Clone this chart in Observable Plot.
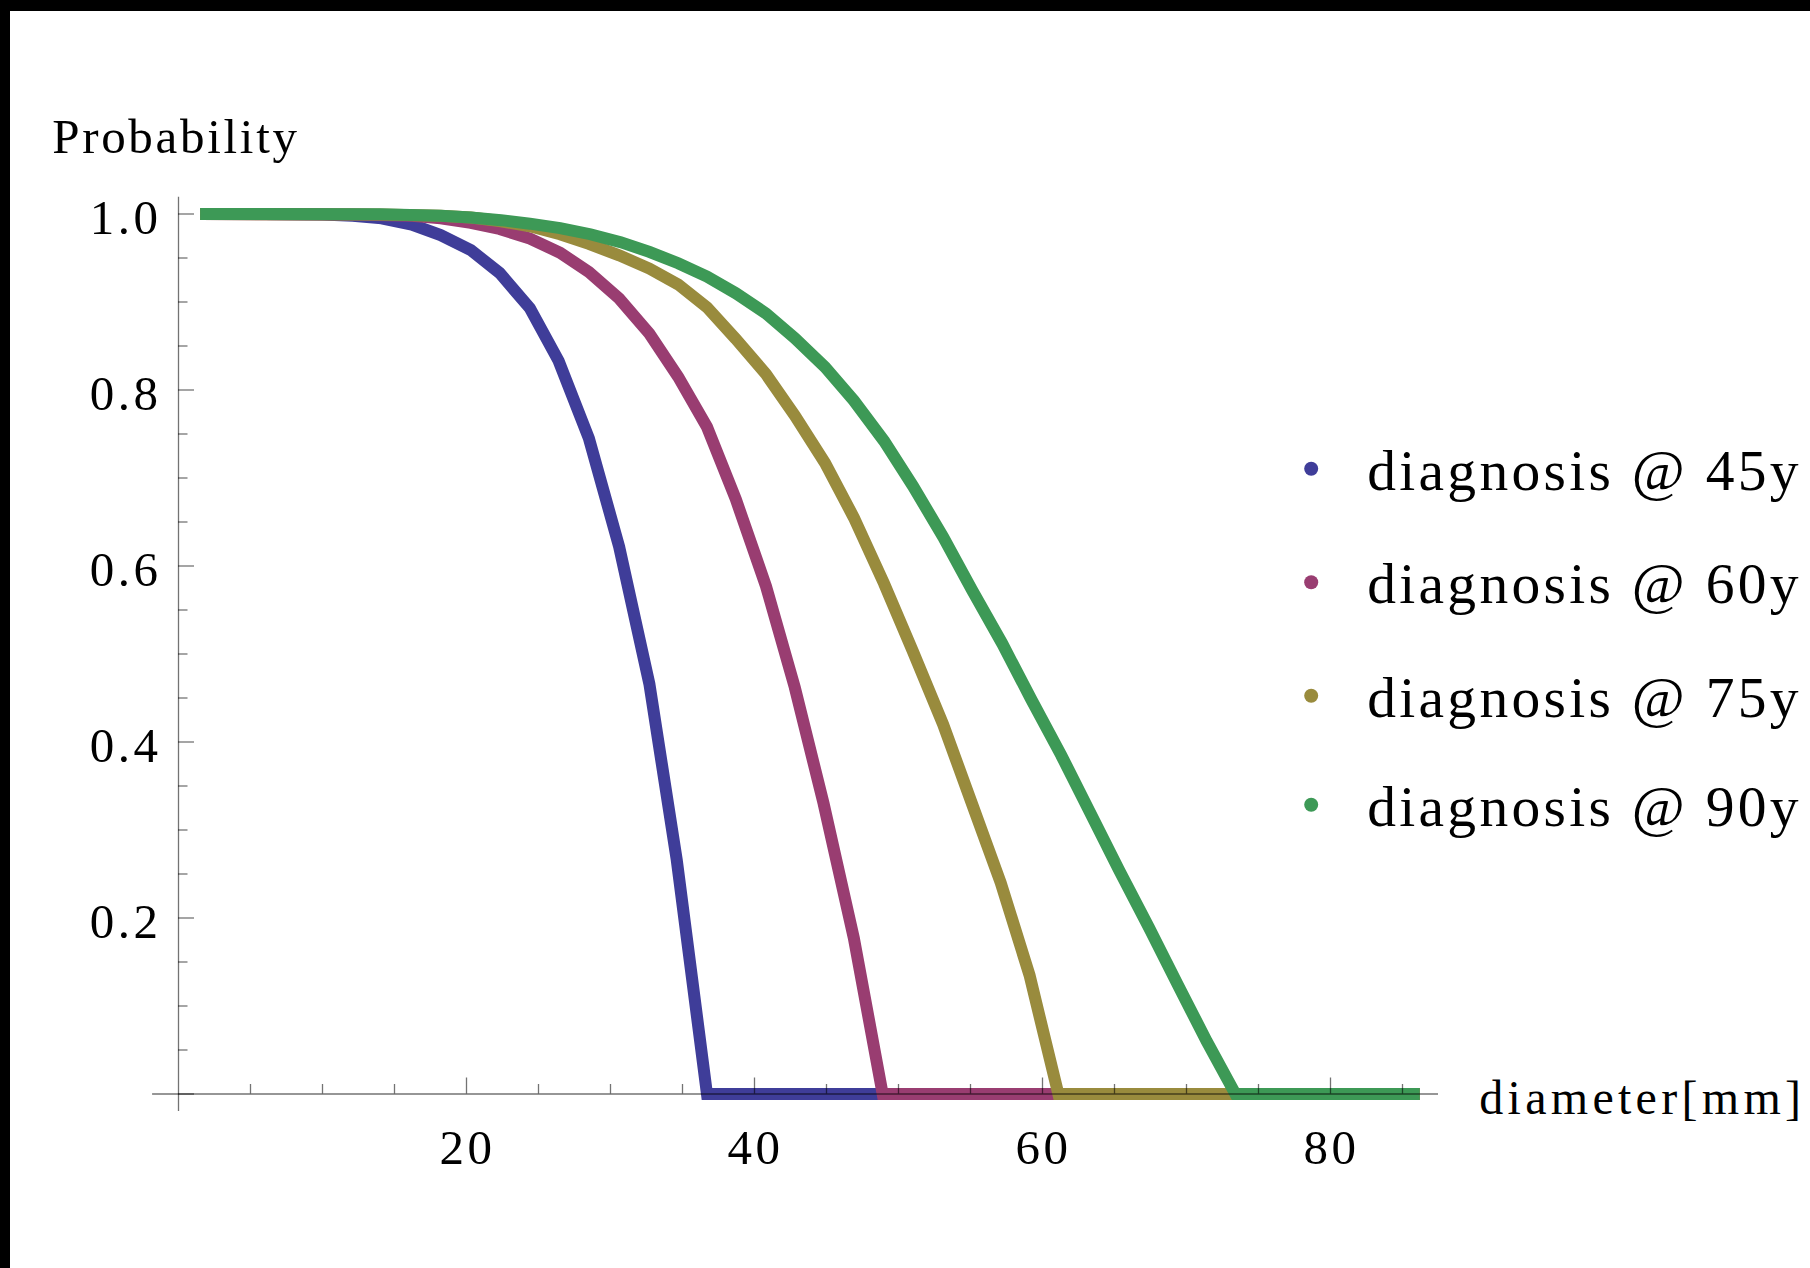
<!DOCTYPE html>
<html>
<head>
<meta charset="utf-8">
<script src="https://cdn.jsdelivr.net/npm/d3@7"></script>
<script src="https://cdn.jsdelivr.net/npm/@observablehq/plot@0.6"></script>
<style>
html, body { margin: 0; padding: 0; background: #000; width: 1810px; height: 1268px; overflow: hidden; }
#chart { position: absolute; left: 10px; top: 11px; width: 1800px; height: 1257px; background: #fff; }
#chart svg { display: block; }
</style>
</head>
<body>
<div id="chart"></div>
<script>
// ---- data ----
const seriesNames = ["diagnosis @ 45y", "diagnosis @ 60y", "diagnosis @ 75y", "diagnosis @ 90y"];
const seriesColors = ["#3f3d99", "#993d71", "#998b3d", "#3d9956"];

const d45 = [1.5, 6, 10, 12.1, 14.1, 16.2, 18.2, 20.3, 22.3, 24.4, 26.4, 28.5, 30.6, 32.7, 34.6, 36.7, 86.2];
const p45 = [1.000, 1.000, 0.9995, 0.998, 0.995, 0.988, 0.976, 0.959, 0.933, 0.893, 0.833, 0.745, 0.622, 0.466, 0.266, 0, 0];

const d60 = [1.5, 12, 16.2, 18.2, 20.3, 22.3, 24.4, 26.5, 28.5, 30.6, 32.7, 34.7, 36.7, 38.7, 40.8, 42.8, 44.8, 46.9, 48.9, 86.2];
const p60 = [1.000, 0.9995, 0.998, 0.995, 0.990, 0.983, 0.972, 0.956, 0.934, 0.904, 0.864, 0.815, 0.758, 0.676, 0.577, 0.462, 0.330, 0.177, 0, 0];

const d75 = [1.5, 14, 18.2, 20.3, 22.3, 24.4, 26.5, 28.5, 30.6, 32.7, 34.7, 36.7, 38.7, 40.8, 42.8, 44.9, 46.9, 49, 51, 53.1, 55.1, 57.1, 59.1, 61.1, 86.2];
const p75 = [1.000, 0.9995, 0.998, 0.996, 0.992, 0.986, 0.977, 0.966, 0.953, 0.938, 0.920, 0.894, 0.858, 0.818, 0.771, 0.717, 0.655, 0.580, 0.503, 0.420, 0.330, 0.240, 0.135, 0, 0];

const d90 = [1.5, 14, 18.2, 20.3, 22.4, 24.4, 26.5, 28.6, 30.7, 32.7, 34.7, 36.7, 38.7, 40.8, 42.8, 44.9, 46.9, 49, 51, 53.1, 55.1, 57.2, 59.2, 61.3, 63.3, 65.3, 67.4, 69.4, 71.4, 73.4, 86.2];
const p90 = [1.000, 0.9997, 0.998, 0.996, 0.993, 0.989, 0.984, 0.977, 0.968, 0.957, 0.944, 0.929, 0.910, 0.887, 0.859, 0.826, 0.788, 0.742, 0.691, 0.633, 0.573, 0.512, 0.449, 0.385, 0.320, 0.255, 0.189, 0.124, 0.060, 0, 0];

const xMajor = [20, 40, 60, 80];
const xMinor = [5, 10, 15, 25, 30, 35, 45, 50, 55, 65, 70, 75, 85];
const yMajor = [0.2, 0.4, 0.6, 0.8, 1.0];
const yMinor = [0.05, 0.1, 0.15, 0.25, 0.3, 0.35, 0.45, 0.5, 0.55, 0.65, 0.7, 0.75, 0.85, 0.9, 0.95];
const xLabel = "diameter[mm]";
const yLabel = "Probability";

// ---- table for the line mark ----
const seriesD = [d45, d60, d75, d90];
const seriesP = [p45, p60, p75, p90];
const rows = [];
seriesNames.forEach((name, i) => {
  seriesD[i].forEach((d, j) => rows.push({series: name, d, p: seriesP[i][j]}));
});

// ---- layout ----
const W = 1800, H = 1257;
const mL = 168, mR = 336, mT = 202.5, mB = 174.5;
const xDomain = [0, 90], yDomain = [0, 1];
const pxPerX = (W - mL - mR) / (xDomain[1] - xDomain[0]);
const pxPerY = (H - mT - mB) / (yDomain[1] - yDomain[0]);
const majorLen = 16, minorLen = 9.5;
const axisX1 = -1.8, axisX2 = 87.5;     // x axis line extent
const axisY1 = -0.02, axisY2 = 1.019;   // y axis line extent
const axisStyle = {stroke: "#000", strokeOpacity: 0.55, strokeWidth: 1.3};
const font = "Liberation Serif, Times New Roman, serif";
const legendRows = [0, 113.4, 227, 336];

const legendMarks = [];
seriesNames.forEach((name, i) => {
  legendMarks.push(Plot.dot([name], {frameAnchor: "top-left", dx: 1132.7, dy: 254.8 + legendRows[i], r: 7, fill: seriesColors[i], stroke: null}));
  legendMarks.push(Plot.text([name], {frameAnchor: "top-left", dx: 1188.7, dy: 275.8 + legendRows[i], text: d => d, textAnchor: "start", lineAnchor: "bottom", fontSize: 57.5, fontFamily: font, fill: "#000"}));
});

const chart = Plot.plot({
  width: W, height: H,
  marginLeft: mL, marginRight: mR, marginTop: mT, marginBottom: mB,
  style: {background: "#fff", fontFamily: font, overflow: "visible"},
  x: {domain: xDomain, axis: null},
  y: {domain: yDomain, axis: null},
  color: {domain: seriesNames, range: seriesColors},
  marks: [
    Plot.line(rows, {x: "d", y: "p", z: "series", stroke: "series", strokeWidth: 12, strokeLinejoin: "miter", strokeLinecap: "butt", strokeMiterlimit: 10}),
    Plot.ruleY([0], {x1: axisX1, x2: axisX2, ...axisStyle}),
    Plot.ruleX([0], {y1: axisY1, y2: axisY2, ...axisStyle}),
    Plot.ruleX(xMajor, {x: d => d, y1: 0, y2: majorLen / pxPerY, ...axisStyle}),
    Plot.ruleX(xMinor, {x: d => d, y1: 0, y2: minorLen / pxPerY, ...axisStyle}),
    Plot.ruleY([0, ...yMajor], {y: d => d, x1: 0, x2: majorLen / pxPerX, ...axisStyle}),
    Plot.ruleY(yMinor, {y: d => d, x1: 0, x2: minorLen / pxPerX, ...axisStyle}),
    Plot.text(xMajor, {x: d => d, y: 0, text: d => String(d), textAnchor: "middle", lineAnchor: "bottom", dx: 1, dy: 70, fontSize: 49, fontFamily: font, fill: "#000"}),
    Plot.text(yMajor, {x: 0, y: d => d, text: d => d.toFixed(1), textAnchor: "end", lineAnchor: "middle", dx: -17, dy: 4, fontSize: 49, fontFamily: font, fill: "#000"}),
    Plot.text([yLabel], {frameAnchor: "top-left", dx: 41.7 - mL, dy: 141.7 - mT, text: d => d, textAnchor: "start", lineAnchor: "bottom", fontSize: 49, fontFamily: font, fill: "#000"}),
    Plot.text([xLabel], {frameAnchor: "bottom-right", dx: 4.7, dy: 19.8, text: d => d, textAnchor: "start", lineAnchor: "bottom", fontSize: 48, fontFamily: font, fill: "#000"}),
    ...legendMarks
  ]
});

// letter spacing of the reference's typesetting
const spacing = new Map();
xMajor.forEach(v => spacing.set(String(v), 3.5));
yMajor.forEach(v => spacing.set(v.toFixed(1), 3.5));
spacing.set(yLabel, 2.7);
spacing.set(xLabel, 4.3);
seriesNames.forEach(n => spacing.set(n, 3.3));
d3.select(chart).selectAll("text").each(function() {
  const s = spacing.get(this.textContent);
  if (s !== undefined) this.setAttribute("letter-spacing", s + "px");
});

document.getElementById("chart").appendChild(chart);
</script>
</body>
</html>
